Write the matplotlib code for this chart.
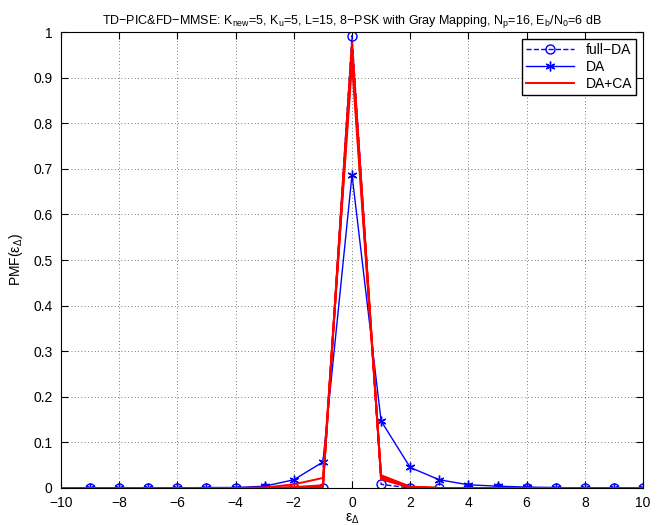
import numpy as np
import matplotlib
matplotlib.use("Agg")
import matplotlib.pyplot as plt

plt.rcParams['font.family'] = ['Liberation Sans', 'DejaVu Sans']
plt.rcParams['mathtext.fontset'] = 'custom'
plt.rcParams['mathtext.rm'] = 'Liberation Sans'
plt.rcParams['mathtext.it'] = 'Liberation Sans'
plt.rcParams['mathtext.default'] = 'regular'

#%% datos
eps_blue = list(range(-9, 11))
full_da = [0, 0, 0, 0, 0, 0, 0, 0, 0, 0.992, 0.008, 0, 0, 0, 0, 0, 0, 0, 0, 0]
da = [0, 0, 0, 0, 0.001, 0.001, 0.004, 0.018, 0.057, 0.687, 0.147, 0.045,
      0.018, 0.007, 0.004, 0.002, 0.001, 0, 0, 0]

eps_red = list(range(-10, 11))
# varias curvas DA+CA (iteraciones)
daca_1 = [0, 0, 0, 0, 0, 0, 0, 0.001, 0.008, 0.022, 0.930, 0.028, 0.003, 0, 0, 0, 0, 0, 0, 0, 0]
daca_2 = [0, 0, 0, 0, 0, 0, 0, 0, 0.002, 0.006, 0.950, 0.025, 0.002, 0, 0, 0, 0, 0, 0, 0, 0]
daca_3 = [0, 0, 0, 0, 0, 0, 0, 0, 0.001, 0.004, 0.960, 0.023, 0.002, 0, 0, 0, 0, 0, 0, 0, 0]
daca_4 = [0, 0, 0, 0, 0, 0, 0, 0, 0, 0.003, 0.970, 0.021, 0.001, 0, 0, 0, 0, 0, 0, 0, 0]
daca_5 = [0, 0, 0, 0, 0, 0, 0, 0, 0, 0.002, 0.976, 0.019, 0.001, 0, 0, 0, 0, 0, 0, 0, 0]
daca = [daca_1, daca_2, daca_3, daca_4, daca_5]

#%% plot
fig = plt.figure(figsize=(6.68, 5.25), dpi=100)
ax = fig.add_axes([0.0913, 0.0705, 0.8713, 0.8685])

asterisk = (6, 2, 0)
ax.plot(eps_blue, full_da, '--o', color='blue', lw=1, ms=6.5, mfc='none', mew=1, label='full\u2212DA')
ax.plot(eps_blue, da, '-', marker=asterisk, color='blue', lw=1, ms=7, mew=1, label='DA')
for i, c in enumerate(daca):
    ax.plot(eps_red, c, '-', color='red', lw=1.4, label='DA+CA' if i == 0 else None)

ax.set_xlim(-10, 10)
ax.set_ylim(0, 1)
ax.set_xticks(np.arange(-10, 11, 2))
ax.set_yticks(np.arange(0, 1.01, 0.1))
ax.set_xticklabels(['\u221210', '\u22128', '\u22126', '\u22124', '\u22122', '0', '2', '4', '6', '8', '10'])
ax.set_yticklabels(['0', '0.1', '0.2', '0.3', '0.4', '0.5', '0.6', '0.7', '0.8', '0.9', '1'])
ax.tick_params(direction='in', length=5, labelsize=10, top=True, right=True)
ax.tick_params(axis='x', pad=6)
ax.tick_params(axis='y', pad=6)
ax.grid(True, linestyle=(0, (1, 3)), color='k', lw=0.6, alpha=0.7)

ax.set_xlabel(r'$\epsilon_\Delta$', fontsize=10, labelpad=1)
ax.set_ylabel(r'PMF($\epsilon_\Delta$)', fontsize=10, labelpad=6)
ax.set_title(r'TD$-$PIC&FD$-$MMSE: K$_{new}$=5, K$_{u}$=5, L=15, 8$-$PSK with Gray Mapping, '
             r'N$_{p}$=16, E$_{b}$/N$_{0}$=6 dB', fontsize=9, pad=6)

leg = ax.legend(loc='upper right', fontsize=10, fancybox=False, edgecolor='black',
                framealpha=1, handlelength=3.5, borderpad=0.3, labelspacing=0.2)
leg.get_frame().set_linewidth(1)

fig.savefig('out.png', dpi=100)
